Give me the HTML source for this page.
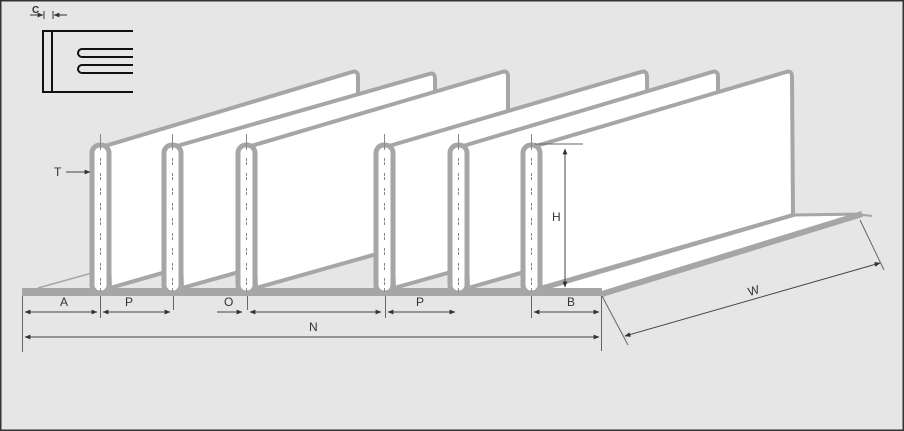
<!DOCTYPE html>
<html><head><meta charset="utf-8"><style>
html,body{margin:0;padding:0;background:#e6e6e6}
svg{display:block}
text{font-family:"Liberation Sans",sans-serif;font-size:12px;fill:#333}
</style></head><body>
<svg width="904" height="431" viewBox="0 0 904 431" xmlns="http://www.w3.org/2000/svg">
<defs>
<marker id="ar" viewBox="0 0 10 10" refX="9" refY="5" markerWidth="6" markerHeight="6" orient="auto-start-reverse"><path d="M0,1 L10,5 L0,9 Z" fill="#333"/></marker>
</defs>
<rect x="0.5" y="0.5" width="903" height="430" fill="#e6e6e6" stroke="#333" stroke-width="2"/>
<g stroke="#111" stroke-width="2" fill="none">
<path d="M133,31 L43,31 L43,92 L133,92"/>
<line x1="52" y1="31" x2="52" y2="92"/>
<path d="M133,49 L82,49 A4,4 0 0 0 82,57 L133,57"/>
<path d="M133,65 L82,65 A4,4 0 0 0 82,73 L133,73"/>
</g>
<text x="32" y="13" style="font-size:10px;font-weight:bold">C</text>
<g stroke="#333" stroke-width="1"><line x1="30" y1="15" x2="43" y2="15" marker-end="url(#ar)"/><line x1="44" y1="11" x2="44" y2="19"/><line x1="53" y1="11" x2="53" y2="19"/><line x1="67" y1="15" x2="54" y2="15" marker-end="url(#ar)"/></g>
<polygon points="38,288 540,288 795,215 860,215 602,295 22,295" fill="#fff"/>
<line x1="38" y1="288" x2="92" y2="273" stroke="#a6a6a6" stroke-width="1.5"/>
<g stroke="#a6a6a6" stroke-width="4" fill="#fff" stroke-linejoin="round">
<path d="M105,146 L352,72 Q358,70 358,77 L358,217 L110,288 Z"/>
<path d="M177,146 L429,74 Q435,72 435,79 L435,217 L182,288 Z"/>
<path d="M251,146 L502,72 Q508,70 508,77 L508,217 L256,288 Z"/>
<path d="M389,146 L641,72 Q647,70 647,77 L647,217 L394,288 Z"/>
<path d="M463,146 L712,72 Q718,70 718,77 L718,217 L468,288 Z"/>
<path d="M536,146 L786,72 Q792,70 792,77 L793,215 L540,288 Z"/>
</g>
<polygon points="540,290 795,215 862,214 602,294" fill="#fff" stroke="#a6a6a6" stroke-width="3"/>
<line x1="602" y1="294" x2="862" y2="214" stroke="#a6a6a6" stroke-width="6"/>
<line x1="855" y1="214" x2="872" y2="216" stroke="#a6a6a6" stroke-width="2"/>
<rect x="22" y="288" width="580" height="8" fill="#a6a6a6"/>
<g>
<g id="fin">
<rect x="92" y="145" width="17" height="148" rx="8" fill="#fff" stroke="#a6a6a6" stroke-width="5"/>
<line x1="100.5" y1="134" x2="100.5" y2="292" stroke="#888" stroke-width="1"/>
<line x1="100.5" y1="150" x2="100.5" y2="288" stroke="#fff" stroke-width="2" stroke-dasharray="8,3,1,3"/>
</g>
<use href="#fin" x="72"/>
<use href="#fin" x="146"/>
<use href="#fin" x="284"/>
<use href="#fin" x="358"/>
<use href="#fin" x="431"/>
</g>
<g stroke="#666" stroke-width="1" fill="none">
<line x1="22.5" y1="296" x2="22.5" y2="352"/>
<line x1="100.5" y1="296" x2="100.5" y2="318"/>
<line x1="173.5" y1="296" x2="173.5" y2="310"/>
<line x1="247.5" y1="296" x2="247.5" y2="310"/>
<line x1="385.5" y1="296" x2="385.5" y2="318"/>
<line x1="531.5" y1="296" x2="531.5" y2="318"/>
<line x1="601.5" y1="296" x2="601.5" y2="351"/>
<line x1="535" y1="144" x2="583" y2="144"/>
<line x1="602" y1="296" x2="628" y2="345"/>
<line x1="860" y1="220" x2="884" y2="270"/>
</g>
<g stroke="#444" stroke-width="1" marker-start="url(#ar)" marker-end="url(#ar)">
<line x1="25" y1="312" x2="97" y2="312"/>
<line x1="103" y1="312" x2="170" y2="312"/>
<line x1="250" y1="312" x2="381" y2="312"/>
<line x1="388" y1="312" x2="455" y2="312"/>
<line x1="534" y1="312" x2="599" y2="312"/>
<line x1="25" y1="337" x2="599" y2="337"/>
<line x1="565" y1="149" x2="565" y2="287"/>
<line x1="625" y1="336" x2="880" y2="263"/>
</g>
<line x1="217" y1="312" x2="242" y2="312" stroke="#444" stroke-width="1" marker-end="url(#ar)"/>
<line x1="66" y1="172" x2="90" y2="172" stroke="#444" stroke-width="1" marker-end="url(#ar)"/>
<text x="60" y="306">A</text>
<text x="125" y="306">P</text>
<text x="224" y="306">O</text>
<text x="309" y="331">N</text>
<text x="416" y="306">P</text>
<text x="567" y="306">B</text>
<text x="552" y="221">H</text>
<text x="54" y="176">T</text>
<text x="748" y="295" transform="rotate(-16 752 291)">W</text>
</svg>
</body></html>
